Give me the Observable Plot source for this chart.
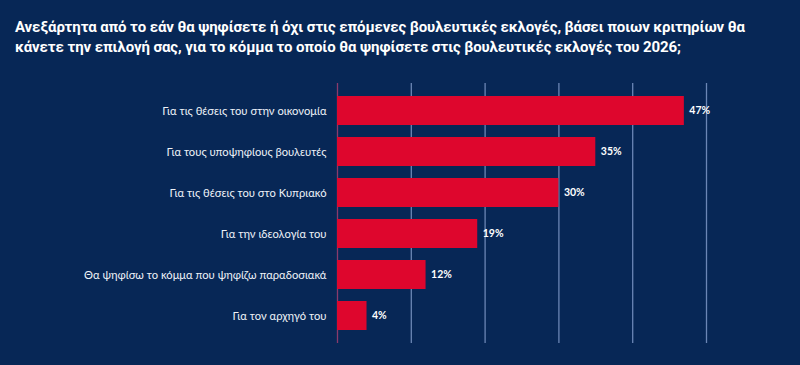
<!DOCTYPE html>
<html>
<head>
<meta charset="utf-8">
<script src="https://cdn.jsdelivr.net/npm/d3@7"></script>
<script src="https://cdn.jsdelivr.net/npm/@observablehq/plot@0.6"></script>
<style>
  html, body { margin: 0; padding: 0; background: #072756; }
  #wrap { width: 800px; height: 365px; background: #072756; overflow: hidden; }
  #title { height: 60px; box-sizing: border-box; padding: 17px 0 0 15px; color: #ffffff;
    font-family: Roboto, sans-serif; font-weight: 700; font-size: 15px; line-height: 20px; letter-spacing: -0.1px; }
  svg { display: block; }
</style>
</head>
<body>
<div id="wrap">
  <div id="title">Ανεξάρτητα από το εάν θα ψηφίσετε ή όχι στις επόμενες βουλευτικές εκλογές, βάσει ποιων κριτηρίων θα<br>κάνετε την επιλογή σας, για το κόμμα το οποίο θα ψηφίσετε στις βουλευτικές εκλογές του 2026;</div>
  <div id="chart"></div>
</div>
<script>
const categories = [
  "Για τις θέσεις του στην οικονομία",
  "Για τους υποψηφίους βουλευτές",
  "Για τις θέσεις του στο Κυπριακό",
  "Για την ιδεολογία του",
  "Θα ψηφίσω το κόμμα που ψηφίζω παραδοσιακά",
  "Για τον αρχηγό του"
];
const values = [47, 35, 30, 19, 12, 4];
const gridTicks = [10, 20, 30, 40, 50];

const data = categories.map((c, i) => ({category: c, value: values[i]}));

const chart = Plot.plot({
  width: 800,
  height: 305,
  marginTop: 23,
  marginBottom: 22,
  marginLeft: 337,
  marginRight: 94,
  style: {background: "#072756", color: "#ffffff", fontFamily: "Lato, sans-serif"},
  x: {domain: [0, 50], axis: null},
  y: {domain: categories, padding: 0.3, label: null},
  marks: [
    Plot.gridX(gridTicks, {stroke: "#6b86b5", strokeOpacity: 1, strokeWidth: 1.3}),
    Plot.ruleX([0], {stroke: "#8a3a6c", strokeWidth: 1.3}),
    Plot.barX(data, {x: "value", y: "category", fill: "#de062d"}),
    Plot.text(data, {x: "value", y: "category", text: d => d.value + "%", textAnchor: "start", dx: 5,
      fill: "#ffffff", fontWeight: 700, fontSize: 10.5, fontFamily: "Lato, sans-serif"}),
    Plot.axisY({tickSize: 0, tickPadding: 11, fontSize: 11.2, fill: "#eef2f8", label: null, fontFamily: "Lato, sans-serif"})
  ]
});
document.getElementById("chart").appendChild(chart);
</script>
</body>
</html>
